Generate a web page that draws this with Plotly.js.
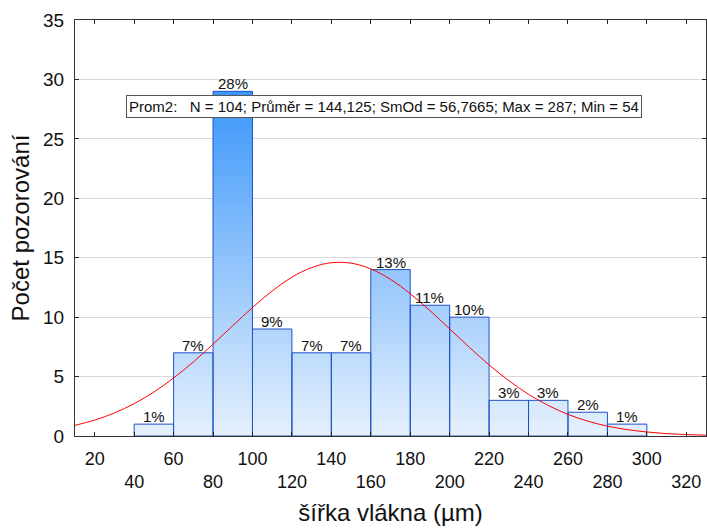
<!DOCTYPE html>
<html>
<head>
<meta charset="utf-8">
<script src="https://cdn.plot.ly/plotly-3.0.1.min.js"></script>
<style>html,body{margin:0;padding:0;background:#fff;}#chart{width:707px;height:528px;}</style>
</head>
<body>
<div id="chart"></div>
<script>
// Histogram bins (lower edges, width 20 µm)
const binStart = [40, 60, 80, 100, 120, 140, 160, 180, 200, 220, 240, 260, 280];
const binWidth = 20;
const counts = [1, 7, 29, 9, 7, 7, 14, 11, 10, 3, 3, 2, 1];
const pctLabels = ["1%", "7%", "28%", "9%", "7%", "7%", "13%", "11%", "10%", "3%", "3%", "2%", "1%"];

// Fitted normal curve
const curveX = [10, 20, 30, 40, 50, 60, 70, 80, 90, 100, 110, 120, 130, 140, 150, 160, 170, 180, 190, 200, 210, 220, 230, 240, 250, 260, 270, 280, 290, 300, 310, 320, 330];
const curveY = [0.90, 1.34, 1.94, 2.72, 3.70, 4.88, 6.23, 7.72, 9.28, 10.81, 12.20, 13.36, 14.17, 14.58, 14.54, 14.06, 13.18, 11.97, 10.55, 9.01, 7.46, 5.98, 4.66, 3.51, 2.57, 1.82, 1.25, 0.83, 0.54, 0.34, 0.20, 0.12, 0.07];

const xTickVals = [20, 40, 60, 80, 100, 120, 140, 160, 180, 200, 220, 240, 260, 280, 300, 320];
const xTickText = xTickVals.map((v, i) => (i % 2 === 0 ? String(v) : "<br>" + v));

const statsText = "Prom2:   N = 104; Průměr = 144,125; SmOd = 56,7665; Max = 287; Min = 54";
const xTitle = "šířka vlákna (µm)";
const yTitle = "Počet pozorování";

// Build bar polygons from the data
const px = [], py = [];
binStart.forEach((s, i) => {
  const e = s + binWidth, c = counts[i];
  px.push(s, s, e, e, s, null);
  py.push(0, c, c, 0, 0, null);
});

const bars = {
  type: "scatter", mode: "lines", x: px, y: py,
  fill: "toself",
  fillgradient: {type: "vertical", start: 0, stop: 29, colorscale: [[0, "#e6f1fd"], [1, "#3a96fa"]]},
  line: {color: "#1f52c8", width: 1},
  hoverinfo: "skip", showlegend: false, connectgaps: false
};

const curve = {
  type: "scatter", mode: "lines", x: curveX, y: curveY,
  line: {color: "#ff0000", width: 1, shape: "spline"},
  hoverinfo: "skip", showlegend: false
};

const annotations = binStart.map((s, i) => ({
  x: s + binWidth / 2, y: counts[i], xref: "x", yref: "y",
  text: pctLabels[i], showarrow: false, yanchor: "bottom", yshift: -3,
  font: {size: 15, color: "#111"}
}));
annotations.push({
  x: 166.7, y: 27.7, xref: "x", yref: "y", text: statsText, showarrow: false,
  xanchor: "center", yanchor: "middle",
  bgcolor: "#ffffff", bordercolor: "#555", borderwidth: 1, borderpad: 2,
  font: {size: 15, color: "#111"}
});

const layout = {
  width: 707, height: 528,
  margin: {l: 75, r: 1, t: 20, b: 92},
  paper_bgcolor: "#fff", plot_bgcolor: "#fff",
  font: {family: "Liberation Sans, Arial, sans-serif", color: "#111"},
  xaxis: {
    range: [10, 330], tickvals: xTickVals, ticktext: xTickText,
    ticks: "inside", ticklen: 4, tickcolor: "#222", mirror: "ticks",
    showline: true, linecolor: "#333", linewidth: 1,
    showgrid: false, zeroline: false,
    tickfont: {size: 18}, ticklabelstandoff: 6,
    title: {text: xTitle, font: {size: 24}, standoff: 13}
  },
  yaxis: {
    range: [0, 35], dtick: 5, tick0: 0,
    ticks: "inside", ticklen: 4, tickcolor: "#222", mirror: "ticks",
    showline: true, linecolor: "#333", linewidth: 1,
    showgrid: true, gridcolor: "#d9d9d9", zeroline: false,
    tickfont: {size: 19}, ticklabelstandoff: 6,
    title: {text: yTitle, font: {size: 24}, standoff: 6}
  },
  annotations: annotations
};

Plotly.newPlot("chart", [bars, curve], layout, {displayModeBar: false, staticPlot: true});
</script>
</body>
</html>
